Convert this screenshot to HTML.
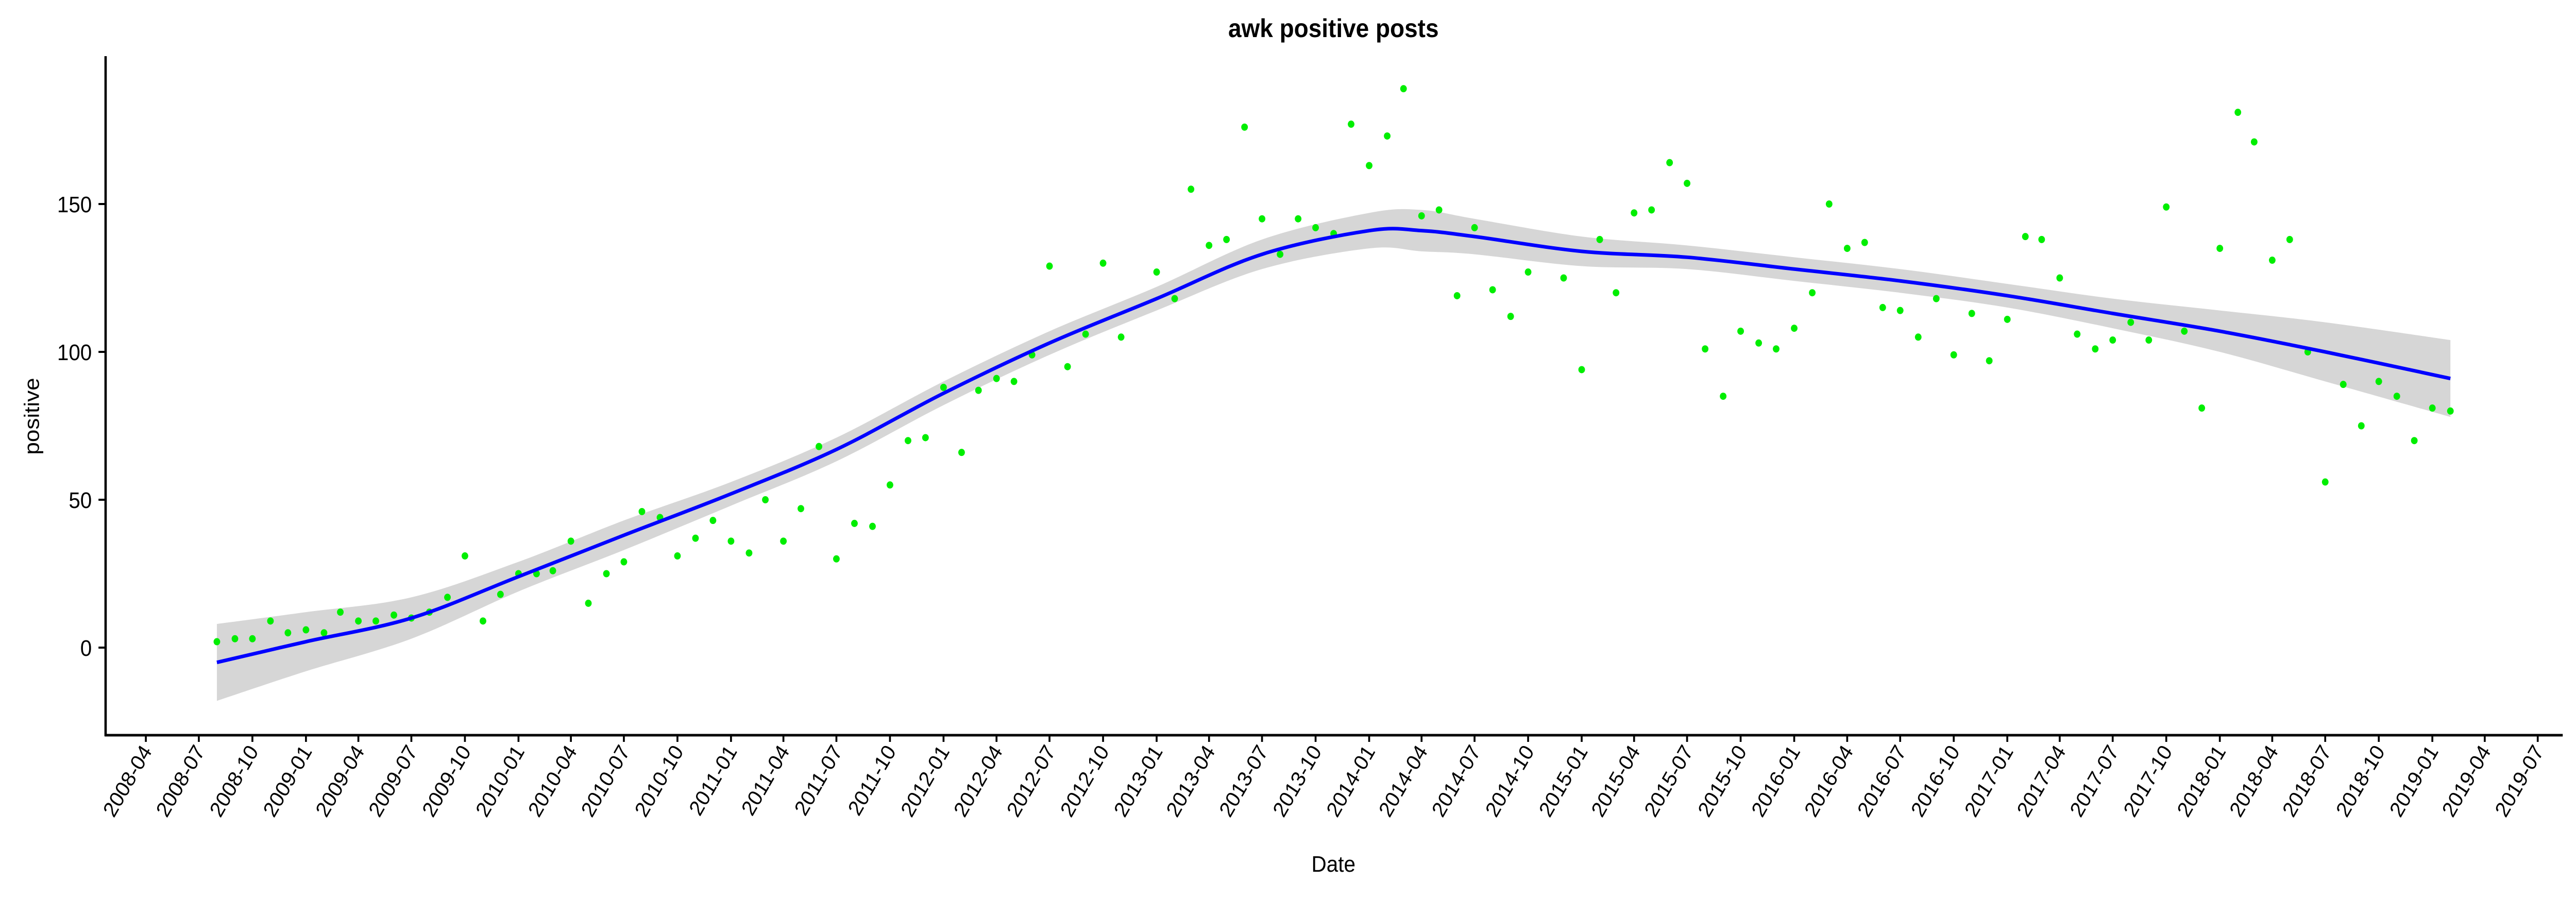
<!DOCTYPE html>
<html><head><meta charset="utf-8">
<style>
html,body{margin:0;padding:0;background:#fff;overflow:hidden;width:100vw;height:100vh;}
svg{display:block;position:absolute;left:0;top:0;width:100vw;height:100vh;font-family:"Liberation Sans",Arial,sans-serif;}
</style></head>
<body>
<svg id="chart" viewBox="0 0 5440 1743" preserveAspectRatio="none" xmlns="http://www.w3.org/2000/svg">
<text x="2816" y="72" font-size="50" font-weight="bold" text-anchor="middle">awk positive posts</text>
<text x="2816" y="1692" font-size="44" text-anchor="middle">Date</text>
<text transform="translate(82,808) rotate(-90)" font-size="44" text-anchor="middle">positive</text>
<g id="band"></g>
<g id="points"></g>
<g id="fit"></g>
<g id="axes"></g>
</svg>
<script>
const months = ["2008-08","2008-09","2008-10","2008-11","2008-12","2009-01","2009-02","2009-03","2009-04","2009-05","2009-06","2009-07","2009-08","2009-09","2009-10","2009-11","2009-12","2010-01","2010-02","2010-03","2010-04","2010-05","2010-06","2010-07","2010-08","2010-09","2010-10","2010-11","2010-12","2011-01","2011-02","2011-03","2011-04","2011-05","2011-06","2011-07","2011-08","2011-09","2011-10","2011-11","2011-12","2012-01","2012-02","2012-03","2012-04","2012-05","2012-06","2012-07","2012-08","2012-09","2012-10","2012-11","2013-01","2013-02","2013-03","2013-04","2013-05","2013-06","2013-07","2013-08","2013-09","2013-10","2013-11","2013-12","2014-01","2014-02","2014-03","2014-04","2014-05","2014-06","2014-07","2014-08","2014-09","2014-10","2014-12","2015-01","2015-02","2015-03","2015-04","2015-05","2015-06","2015-07","2015-08","2015-09","2015-10","2015-11","2015-12","2016-01","2016-02","2016-03","2016-04","2016-05","2016-06","2016-07","2016-08","2016-09","2016-10","2016-11","2016-12","2017-01","2017-02","2017-03","2017-04","2017-05","2017-06","2017-07","2017-08","2017-09","2017-10","2017-11","2017-12","2018-01","2018-02","2018-03","2018-04","2018-05","2018-06","2018-07","2018-08","2018-09","2018-10","2018-11","2018-12","2019-01","2019-02"];
const positive = [2,3,3,9,5,6,5,12,9,9,11,10,12,17,31,9,18,25,25,26,36,15,25,29,46,44,31,37,43,36,32,50,36,47,68,30,42,41,55,70,71,88,66,87,91,90,99,129,95,106,130,105,127,118,155,136,138,176,145,133,145,142,140,177,163,173,189,146,148,119,142,121,112,127,125,94,138,120,147,148,164,157,101,85,107,103,101,108,120,150,135,137,115,114,105,118,99,113,97,111,139,138,125,106,101,104,110,104,149,107,81,135,181,171,131,138,100,56,89,75,90,85,70,81,80];
const fitDates = ["2008-08","2009-01","2009-07","2010-01","2010-07","2011-01","2011-07","2012-01","2012-07","2013-01","2013-07","2014-01","2014-04","2014-07","2015-01","2015-07","2016-01","2016-07","2017-01","2017-07","2018-01","2018-07","2019-02"];
const fitValues = [-5,2,10,24,38,52,67,86,103,118,133,141,141,139,134,132,128,124,119,113,107,100,91];
const fitSE = [13,10,7,5,5,4,4,4,4,4,5,6,7,6,5,4,4,4,4,5,7,10,13];
const yTicks = [0,50,100,150];
const xTicks = ["2008-04","2008-07","2008-10","2009-01","2009-04","2009-07","2009-10","2010-01","2010-04","2010-07","2010-10","2011-01","2011-04","2011-07","2011-10","2012-01","2012-04","2012-07","2012-10","2013-01","2013-04","2013-07","2013-10","2014-01","2014-04","2014-07","2014-10","2015-01","2015-04","2015-07","2015-10","2016-01","2016-04","2016-07","2016-10","2017-01","2017-04","2017-07","2017-10","2018-01","2018-04","2018-07","2018-10","2019-01","2019-04","2019-07"];

const NS="http://www.w3.org/2000/svg";
const T0=Date.UTC(2008,3,1);
function xs(m){const p=m.split("-");const d=(Date.UTC(+p[0],+p[1]-1,1)-T0)/86400000;return 308+d*1.2296;}
function ys(v){return 1257-v*5.74;}
function mk(tag,attrs,parent){const e=document.createElementNS(NS,tag);for(const k in attrs)e.setAttribute(k,attrs[k]);parent.appendChild(e);return e;}
function smooth(pts){let d="M"+pts[0][0]+","+pts[0][1];for(let i=0;i<pts.length-1;i++){const p0=pts[i-1]||pts[i],p1=pts[i],p2=pts[i+1],p3=pts[i+2]||p2;const c1=[p1[0]+(p2[0]-p0[0])/6,p1[1]+(p2[1]-p0[1])/6],c2=[p2[0]-(p3[0]-p1[0])/6,p2[1]-(p3[1]-p1[1])/6];d+=" C"+c1+" "+c2+" "+p2;}return d;}

const band=document.getElementById("band");
const up=fitDates.map((m,i)=>[xs(m),ys(fitValues[i]+fitSE[i])]);
const lo=fitDates.map((m,i)=>[xs(m),ys(fitValues[i]-fitSE[i])]).reverse();
const bp=mk("path",{d:smooth(up)+" L"+lo[0]+" "+smooth(lo).slice(1)+" Z",fill:"#d6d6d6"},band);



const pg=document.getElementById("points");
months.forEach((m,i)=>{
  const c=mk("circle",{cx:xs(m),cy:ys(positive[i]),r:7,fill:"#00ee00"},pg);
  
  
});

const fg=document.getElementById("fit");
const fl=mk("path",{d:smooth(fitDates.map((m,i)=>[xs(m),ys(fitValues[i])])),fill:"none",stroke:"#0000ff","stroke-width":7},fg);



const ax=document.getElementById("axes");
const yl=mk("line",{x1:223,y1:109,x2:223,y2:1429,stroke:"#000","stroke-width":5},ax);


const xl=mk("line",{x1:221,y1:1427,x2:5412,y2:1427,stroke:"#000","stroke-width":5},ax);


yTicks.forEach(v=>{
  const t=mk("line",{x1:208,y1:ys(v),x2:223,y2:ys(v),stroke:"#000","stroke-width":4},ax);
  
  
  const l=mk("text",{x:194,y:ys(v)+16,"font-size":44,"text-anchor":"end"},ax);
  l.textContent=v;
  
  
});
xTicks.forEach(m=>{
  const x=xs(m);
  const t=mk("line",{x1:x,y1:1427,x2:x,y2:1440,stroke:"#000","stroke-width":4},ax);
  
  
  const l=mk("text",{transform:"translate("+(x+14)+",1458) rotate(-58)","font-size":42,"text-anchor":"end"},ax);
  l.textContent=m;
  
  
});
</script>
</body></html>
